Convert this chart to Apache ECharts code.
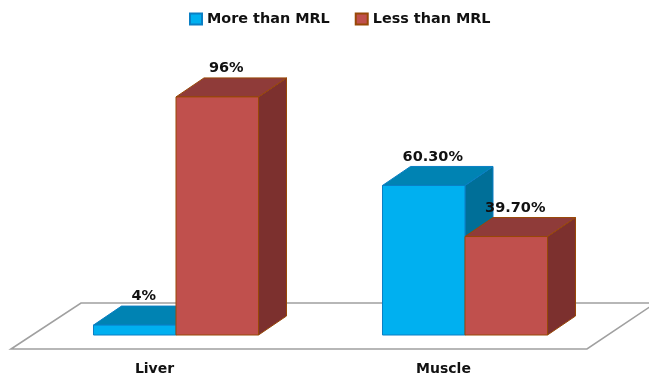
<!DOCTYPE html>
<html>
<head>
<meta charset="utf-8">
<style>html,body{margin:0;padding:0;background:#fff}#chart{width:649px;height:376px}</style>
<script src="https://cdn.jsdelivr.net/npm/echarts@6/dist/echarts.min.js"></script>
</head>
<body>
<div id="chart"></div>
<script>
const categories = ['Liver', 'Muscle'];
const moreThanMrl = [4, 60.3];
const lessThanMrl = [96, 39.7];
const moreLabels = ['4%', '60.30%'];
const lessLabels = ['96%', '39.70%'];

const FONT = '"DejaVu Sans", Verdana, sans-serif';
const DEPTH_X = 28, DEPTH_Y = 19, BAR_RATIO = 0.2855, FRONT_SHIFT = 21.5;

const palettes = {
  more: { front: '#00B0F0', top: '#0083B3', side: '#006F98', edge: '#0A7FC4' },
  less: { front: '#C0504D', top: '#8F3B39', side: '#7C302E', edge: '#984807' }
};

// Extruded column: front face, lid and right side, plus its value label.
function boxRenderer(palette, side, labels) {
  return function (params, api) {
    const idx = api.value(0);
    const top = api.coord([idx, api.value(1)]);
    const base = api.coord([idx, 0]);
    const w = api.size([1, 0])[0] * BAR_RATIO;
    const x0 = top[0] + FRONT_SHIFT + (side < 0 ? -w : 0);
    const x1 = x0 + w;
    const yT = top[1], yB = base[1];
    const poly = (points, fill) => ({
      type: 'polygon',
      shape: { points },
      style: { fill, stroke: palette.edge, lineWidth: 1 }
    });
    return {
      type: 'group',
      children: [
        poly([[x1, yT], [x1 + DEPTH_X, yT - DEPTH_Y], [x1 + DEPTH_X, yB - DEPTH_Y], [x1, yB]], palette.side),
        poly([[x0, yT], [x0 + DEPTH_X, yT - DEPTH_Y], [x1 + DEPTH_X, yT - DEPTH_Y], [x1, yT]], palette.top),
        poly([[x0, yT], [x1, yT], [x1, yB], [x0, yB]], palette.front),
        {
          type: 'text',
          style: {
            x: (x0 + x1) / 2 + 9,
            y: yT - 28.5,
            text: labels[idx],
            fill: '#111',
            font: 'bold 14.5px ' + FONT,
            align: 'center',
            verticalAlign: 'middle'
          }
        }
      ]
    };
  };
}

const chart = echarts.init(document.getElementById('chart'), null, { renderer: 'canvas' });
chart.setOption({
  animation: false,
  backgroundColor: '#fff',
  legend: {
    top: 7,
    left: 184,
    icon: 'rect',
    itemWidth: 12,
    itemHeight: 11,
    itemGap: 25,
    textStyle: { fontFamily: FONT, fontWeight: 'bold', fontSize: 14.4, color: '#111' },
    data: ['More than MRL', 'Less than MRL']
  },
  grid: { left: 10, width: 578, top: 87, height: 248, containLabel: false },
  xAxis: {
    type: 'category',
    data: categories,
    axisLine: { show: false },
    axisTick: { show: false },
    axisLabel: { margin: 27, fontFamily: FONT, fontWeight: 'bold', fontSize: 14, color: '#111' }
  },
  yAxis: { type: 'value', min: 0, max: 100, show: false },
  // Floor plane under the columns
  graphic: [{
    type: 'polyline',
    z: -1,
    shape: { points: [[660, 303], [81, 303], [11, 349], [587, 349], [660, 300]] },
    style: { fill: null, stroke: '#A0A0A0', lineWidth: 1.6 }
  }],
  series: [
    {
      name: 'More than MRL',
      type: 'custom',
      clip: false,
      itemStyle: { color: palettes.more.front, borderColor: palettes.more.edge, borderWidth: 1 },
      encode: { x: 0, y: 1 },
      data: categories.map((c, i) => [i, moreThanMrl[i]]),
      renderItem: boxRenderer(palettes.more, -1, moreLabels)
    },
    {
      name: 'Less than MRL',
      type: 'custom',
      clip: false,
      itemStyle: { color: palettes.less.front, borderColor: palettes.less.edge, borderWidth: 1 },
      encode: { x: 0, y: 1 },
      data: categories.map((c, i) => [i, lessThanMrl[i]]),
      renderItem: boxRenderer(palettes.less, 1, lessLabels)
    }
  ]
});
</script>
</body>
</html>
